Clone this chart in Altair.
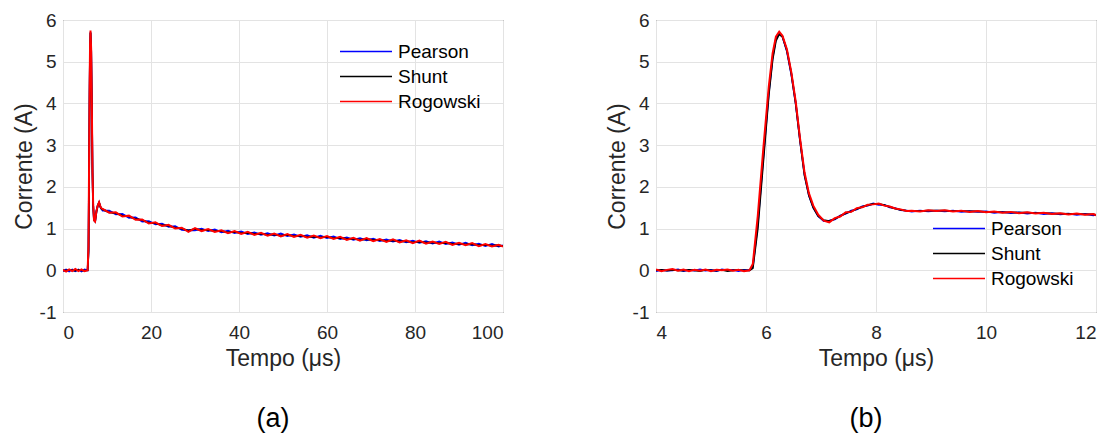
import altair as alt
import pandas as pd

FONT = "Liberation Sans"
names = ["Pearson", "Shunt", "Rogowski"]
colors = ["#0000ff", "#000000", "#ff0000"]

# ---------------- Panel (a): 0..100 us ----------------
t_a_early = [0, 0.7, 1.4, 2.1, 2.8, 3.5, 4.2, 4.9, 5.6,
             5.8, 5.95, 6.05, 6.15, 6.25, 6.4, 6.55, 6.7, 6.85, 7.05, 7.3, 7.6, 7.9, 8.2, 8.6]
red_a_early = [0.01, -0.03, 0.02, -0.02, 0.03, -0.02, 0.02, -0.02, 0.0,
               0.6, 2.9, 4.4, 5.4, 5.75, 5.3, 4.0, 2.4, 1.6, 1.2, 1.17, 1.42, 1.55, 1.63, 1.5]
blue_a_early = [-0.02, 0.02, -0.03, 0.02, -0.02, 0.02, -0.03, 0.02, 0.0,
                0.5, 2.7, 4.3, 5.3, 5.7, 5.25, 4.0, 2.35, 1.55, 1.2, 1.17, 1.41, 1.55, 1.62, 1.49]
black_a_early = [0.0, -0.01, 0.01, 0.0, -0.01, 0.01, 0.0, -0.01, 0.0,
                 0.45, 2.6, 4.2, 5.3, 5.7, 5.25, 4.0, 2.35, 1.55, 1.2, 1.17, 1.41, 1.55, 1.62, 1.49]

t_a_decay = [9, 10.5, 12, 13.5, 15, 16.5, 18, 19.5, 21, 22.5, 24, 25.5, 27, 28.5, 30, 31.5,
             33, 34.5, 36, 37.5, 39, 40.5, 42, 43.5, 45, 46.5, 48, 49.5, 51, 52.5, 54, 55.5,
             57, 58.5, 60, 61.5, 63, 64.5, 66, 67.5, 69, 70.5, 72, 73.5, 75, 76.5, 78, 79.5,
             81, 82.5, 84, 85.5, 87, 88.5, 90, 91.5, 93, 94.5, 96, 97.5, 99, 100]
red_a_decay = [1.47, 1.38, 1.39, 1.29, 1.31, 1.21, 1.22, 1.12, 1.15, 1.06, 1.09, 1.00, 1.02, 0.92,
               1.01, 0.94, 0.99, 0.92, 0.96, 0.89, 0.94, 0.87, 0.92, 0.85, 0.90, 0.83, 0.88, 0.81,
               0.87, 0.80, 0.85, 0.78, 0.83, 0.77, 0.82, 0.75, 0.80, 0.73, 0.78, 0.71, 0.77, 0.70,
               0.75, 0.68, 0.74, 0.67, 0.72, 0.65, 0.71, 0.64, 0.69, 0.63, 0.68, 0.61, 0.66, 0.60,
               0.65, 0.58, 0.63, 0.57, 0.61, 0.57]
blue_a_decay = [1.43, 1.43, 1.34, 1.35, 1.26, 1.27, 1.17, 1.18, 1.10, 1.12, 1.04, 1.06, 0.97, 0.96,
                0.96, 1.00, 0.94, 0.98, 0.91, 0.95, 0.89, 0.93, 0.87, 0.91, 0.85, 0.89, 0.83, 0.88,
                0.82, 0.86, 0.80, 0.84, 0.78, 0.83, 0.77, 0.81, 0.75, 0.79, 0.73, 0.77, 0.72, 0.76,
                0.70, 0.74, 0.69, 0.73, 0.67, 0.71, 0.66, 0.70, 0.64, 0.69, 0.63, 0.67, 0.61, 0.66,
                0.60, 0.64, 0.58, 0.63, 0.57, 0.60]
black_a_decay = [1.46, 1.39, 1.37, 1.31, 1.29, 1.23, 1.20, 1.14, 1.13, 1.08, 1.07, 1.02, 1.00, 0.95,
                 0.99, 0.96, 0.97, 0.94, 0.94, 0.91, 0.92, 0.89, 0.90, 0.87, 0.88, 0.85, 0.86, 0.83,
                 0.85, 0.82, 0.83, 0.80, 0.81, 0.79, 0.80, 0.77, 0.78, 0.75, 0.76, 0.73, 0.75, 0.72,
                 0.73, 0.70, 0.72, 0.69, 0.70, 0.67, 0.69, 0.66, 0.67, 0.65, 0.66, 0.63, 0.64, 0.62,
                 0.63, 0.60, 0.61, 0.59, 0.60, 0.58]

# ---------------- Panel (b): 4..12 us ----------------
t_b = [4.0, 4.1, 4.2, 4.3, 4.4, 4.5, 4.6, 4.7, 4.8, 4.9, 5.0, 5.1, 5.2, 5.3, 5.4, 5.5, 5.6, 5.7,
       5.76, 5.85, 5.95, 6.05, 6.12, 6.18, 6.24, 6.3, 6.38, 6.46, 6.54, 6.62, 6.7, 6.78, 6.86, 6.95,
       7.05, 7.15, 7.25, 7.35, 7.45, 7.55, 7.65, 7.75, 7.85, 7.95, 8.05, 8.15, 8.25, 8.35, 8.45, 8.55, 8.65,
       8.8, 8.95, 9.1, 9.25, 9.4, 9.55, 9.7, 9.85, 10.0, 10.15, 10.3, 10.45, 10.6, 10.75, 10.9,
       11.05, 11.2, 11.35, 11.5, 11.65, 11.8, 11.95, 12.0]
red_b = [0.02, -0.02, 0.01, 0.03, -0.01, 0.02, -0.02, 0.01, -0.01, 0.02, -0.02, 0.01, 0.0, 0.02, -0.01, 0.01, -0.02, 0.0,
         0.15, 1.3, 2.9, 4.4, 5.2, 5.6, 5.72, 5.62, 5.3, 4.75, 4.05, 3.15, 2.35, 1.85, 1.55, 1.33,
         1.19, 1.15, 1.25, 1.29, 1.39, 1.40, 1.49, 1.51, 1.57, 1.58, 1.60, 1.55, 1.53, 1.48, 1.46, 1.42, 1.43,
         1.41, 1.44, 1.42, 1.44, 1.41, 1.43, 1.40, 1.42, 1.39, 1.41, 1.38, 1.40, 1.37, 1.39, 1.36,
         1.38, 1.35, 1.37, 1.34, 1.36, 1.33, 1.35, 1.32]
blue_b = [-0.02, 0.01, -0.01, 0.0, 0.02, -0.02, 0.01, -0.01, 0.02, -0.01, 0.01, -0.02, 0.02, 0.0, 0.01, -0.02, 0.01, 0.0,
          0.08, 1.1, 2.7, 4.25, 5.1, 5.55, 5.68, 5.6, 5.25, 4.7, 4.0, 3.1, 2.3, 1.8, 1.5, 1.3,
          1.18, 1.19, 1.22, 1.31, 1.36, 1.43, 1.46, 1.53, 1.55, 1.60, 1.57, 1.57, 1.51, 1.49, 1.44, 1.43, 1.41,
          1.43, 1.41, 1.43, 1.41, 1.43, 1.40, 1.42, 1.40, 1.41, 1.38, 1.40, 1.37, 1.39, 1.36, 1.38,
          1.35, 1.37, 1.34, 1.36, 1.33, 1.35, 1.32, 1.33]
black_b = [0.0, 0.01, -0.01, 0.01, 0.0, -0.01, 0.01, 0.0, -0.02, 0.01, 0.0, -0.01, 0.01, -0.02, 0.0, 0.01, 0.0, 0.0,
           0.05, 1.0, 2.6, 4.2, 5.05, 5.5, 5.66, 5.6, 5.27, 4.72, 4.0, 3.1, 2.28, 1.8, 1.5, 1.3,
           1.2, 1.18, 1.23, 1.30, 1.37, 1.41, 1.47, 1.52, 1.56, 1.59, 1.59, 1.56, 1.52, 1.48, 1.45, 1.43, 1.42,
           1.42, 1.43, 1.43, 1.43, 1.42, 1.42, 1.41, 1.41, 1.40, 1.40, 1.39, 1.39, 1.38, 1.38, 1.37,
           1.37, 1.36, 1.36, 1.35, 1.35, 1.34, 1.34, 1.33]

y_ticks = [-1, 0, 1, 2, 3, 4, 5, 6]
x_ticks_a = [0, 20, 40, 60, 80, 100]
x_ticks_b = [4, 6, 8, 10, 12]
widths = [1.8, 1.8, 2.0]


def frame(t, v, name):
    return pd.DataFrame({"t": t, "v": v, "series": name})


def panel(t, blue, black, red, xdom, xticks, legend_y, label):
    legend = alt.Legend(
        title=None, orient="none", legendX=276, legendY=legend_y,
        symbolType="stroke", symbolSize=2704, symbolStrokeWidth=1.5,
        labelFont=FONT, labelFontSize=19, labelColor="#000000", labelOffset=5,
        clipHeight=25, rowPadding=0, padding=0,
    )
    x = alt.X("t:Q", scale=alt.Scale(domain=xdom, nice=False, zero=False),
              axis=alt.Axis(values=xticks, title="Tempo (μs)", labelPadding=11,
                            labelExpr="'' + datum.value",
                            titleBaseline="alphabetic", titleY=53))
    y = alt.Y("v:Q", scale=alt.Scale(domain=[-1, 6], nice=False),
              axis=alt.Axis(values=y_ticks, title="Corrente (A)", labelPadding=7,
                            labelExpr="'' + datum.value",
                            titleBaseline="alphabetic", titleX=-32, titleAngle=270))
    color = alt.Color("series:N", scale=alt.Scale(domain=names, range=colors), legend=legend)
    layers = []
    for name, vals, w in zip(names, [blue, black, red], widths):
        layers.append(
            alt.Chart(frame(t, vals, name)).mark_line(strokeWidth=w, clip=True)
            .encode(x=x, y=y, color=color)
        )
    lab = alt.Chart(pd.DataFrame({"label": [label]})).mark_text(
        font=FONT, fontSize=27, baseline="alphabetic", align="center", color="#000000"
    ).encode(x=alt.value(210), y=alt.value(407), text="label:N")
    return alt.layer(*layers, lab).properties(width=440, height=292)


pa = panel(t_a_early + t_a_decay, blue_a_early + blue_a_decay,
           black_a_early + black_a_decay, red_a_early + red_a_decay,
           [0, 100], x_ticks_a, 19, "(a)")
pb = panel(t_b, blue_b, black_b, red_b, [4, 12], x_ticks_b, 196, "(b)")

chart = (
    alt.hconcat(pa, pb, spacing=153, bounds="flush")
    .resolve_scale(color="independent")
    .resolve_legend(color="independent")
    .properties(
        autosize=alt.AutoSizeParams(type="none"),
        padding={"left": 63, "top": 20, "right": 1047, "bottom": 414},
        background="white",
    )
    .configure_view(stroke="#404040", strokeWidth=1)
    .configure_axis(
        labelFont=FONT, labelFontSize=19, labelColor="#262626",
        titleFont=FONT, titleFontSize=23, titleFontWeight="normal", titleColor="#262626",
        domain=False, ticks=False, grid=True, gridColor="#e3e3e3", gridWidth=1,
    )
)

chart.save("out.html", embed_options={"renderer": "svg", "actions": False})
